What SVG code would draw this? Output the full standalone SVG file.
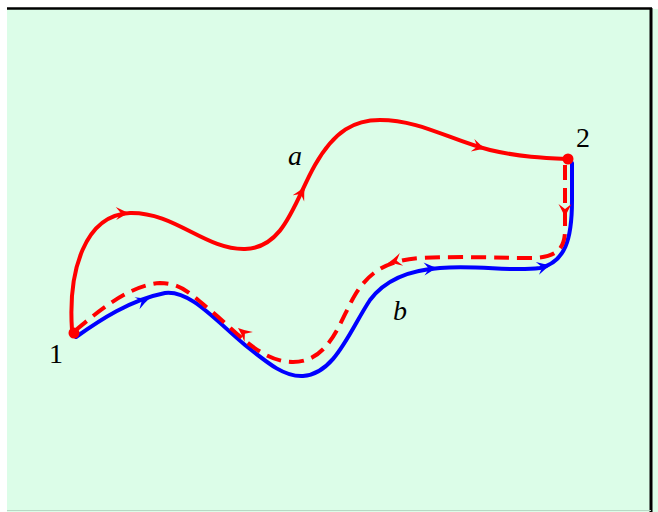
<svg xmlns="http://www.w3.org/2000/svg" width="658" height="512" viewBox="0 0 658 512">
<style>
.red{fill:none;stroke:#ff0000;stroke-width:4;stroke-linecap:round}
.dash{fill:none;stroke:#ff0000;stroke-width:4;stroke-dasharray:15 8}
.blue{fill:none;stroke:#0000ff;stroke-width:4;stroke-linecap:round}
.lbl{font-family:"Liberation Serif","DejaVu Serif",serif;font-size:28px;fill:#000}
.it{font-style:italic}
</style>
<defs>
<path id="ah" d="M-14,-6.5 Q-6,-2 0,0 Q-6,2 -14,6.5 L-9,0 Z"/>
</defs>
<rect x="0" y="0" width="658" height="512" fill="#ffffff"/>
<rect x="7" y="9" width="651" height="503" fill="#dcfde8"/>
<line x1="7" y1="8.5" x2="652" y2="8.5" stroke="#000" stroke-width="2.5"/>
<line x1="651" y1="8" x2="651" y2="512" stroke="#000" stroke-width="3"/>
<line x1="7" y1="510.5" x2="651" y2="510.5" stroke="#b8d8c4" stroke-width="1"/>
<g id="connectors">
<path class="red" d="M72,330 C68,270 85,215 130,213 C175,212 205,250 245,249 C285,248 295,200 315,165 C335,130 355,120 380,120 C420,120 450,140 490,150 C520,157 545,158 568,159"/>
<path class="blue" d="M76,337 C100,320 130,300 165,293 C190,290 215,320 245,345 C270,365 285,377 303,376 C335,374 350,330 370,300 C385,280 410,270 440,268 C480,265 510,272 540,268 C565,262 572,240 572,200 L572,163"/>
<path class="dash" d="M565,165 L565,230 C565,250 555,258 530,258 C500,258 460,256 420,258 C390,260 370,270 355,295 C340,320 330,362 293,362 C260,362 235,330 210,310 C190,293 180,283 160,283 C130,285 100,310 76,330"/>
<g fill="#ff0000">
<use href="#ah" transform="translate(130,213) rotate(-2)"/>
<use href="#ah" transform="translate(305,186) rotate(-62)"/>
<use href="#ah" transform="translate(486,149) rotate(16)"/>
<use href="#ah" transform="translate(565,218) rotate(90)"/>
<use href="#ah" transform="translate(388,263) rotate(165)"/>
<use href="#ah" transform="translate(238,328) rotate(-140)"/>
</g>
<g fill="#0000ff">
<use href="#ah" transform="translate(150,298) rotate(-22)"/>
<use href="#ah" transform="translate(438,268) rotate(-4)"/>
<use href="#ah" transform="translate(551,265) rotate(-14)"/>
</g>
</g>
<g id="n1">
<circle cx="74" cy="333" r="5.5" fill="#ff0000"/>
<text class="lbl" x="49" y="363">1</text>
</g>
<g id="n2">
<circle cx="568" cy="159" r="5.5" fill="#ff0000"/>
<text class="lbl" x="576" y="147">2</text>
</g>
<g id="la"><text class="lbl it" x="288" y="165">a</text></g>
<g id="lb"><text class="lbl it" x="393" y="320">b</text></g>
</svg>
